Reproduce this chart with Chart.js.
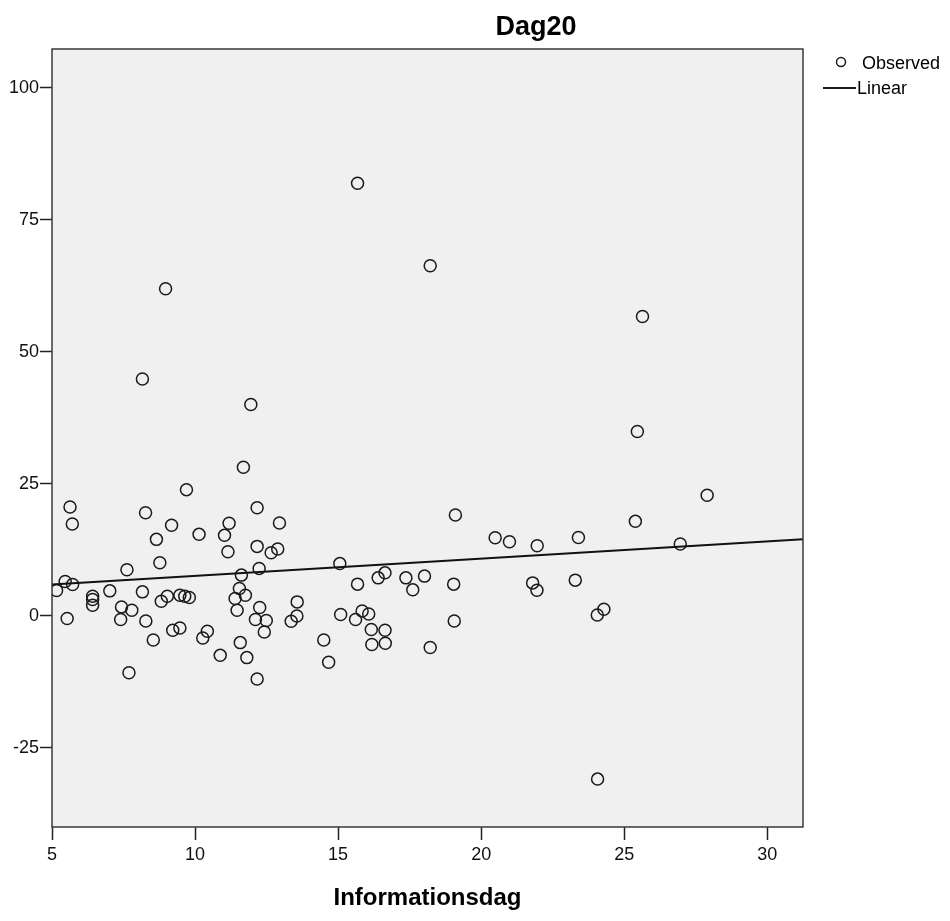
<!DOCTYPE html>
<html>
<head>
<meta charset="utf-8">
<script src="https://cdn.jsdelivr.net/npm/chart.js@4.4.1/dist/chart.umd.min.js"></script>
<style>
  html, body { margin: 0; padding: 0; background: #fff; }
  #ram { width: 950px; height: 921px; }
</style>
</head>
<body>
<div id="ram"><canvas id="spridning" width="950" height="921"></canvas></div>
<script>
// Värden (Informationsdag mot Dag20)
const informationsdag = [
  5.16, 5.46, 5.72, 5.53, 5.63, 5.71, 6.42, 6.42, 6.42, 7.02,
  7.43, 7.40, 7.62, 7.79, 7.69, 8.16, 8.27, 8.28, 8.54, 8.65,
  8.77, 8.82, 9.03, 9.18, 9.22, 9.47, 9.47, 9.64, 9.80, 9.70,
  10.14, 10.27, 10.43, 10.88, 11.03, 11.19, 11.15, 11.40, 11.47, 11.55,
  11.62, 11.76, 11.58, 11.81, 11.69, 11.95, 12.11, 12.17, 12.17, 12.24,
  12.26, 12.42, 12.17, 12.49, 12.66, 12.89, 12.95, 13.36, 13.56, 13.57,
  14.50, 14.67, 15.06, 15.09, 15.68, 15.61, 15.68, 15.84, 16.07, 16.16,
  16.18, 16.40, 16.64, 16.64, 16.65, 17.37, 17.61, 18.02, 18.22, 18.22,
  19.04, 19.06, 19.10, 20.49, 20.99, 21.80, 21.95, 21.96, 23.29, 23.40,
  24.29, 24.06, 24.07, 25.39, 25.46, 25.64, 26.96, 27.90, 8.16, 8.97
];
const dag20 = [
  4.78, 6.49, 5.92, -0.53, 20.59, 17.36, 3.70, 3.07, 1.99, 4.71,
  1.67, -0.72, 8.69, 1.04, -10.78, 4.52, 19.51, -0.99, -4.59, 14.46,
  10.02, 2.75, 3.70, 17.12, -2.75, -2.31, 3.89, 3.70, 3.45, 23.87,
  15.41, -4.21, -2.94, -7.50, 15.22, 17.50, 12.11, 3.26, 1.04, 5.16,
  7.69, 3.89, -5.09, -7.93, 28.12, 40.0, -0.72, 20.46, 13.13, 8.96,
  1.56, -3.07, -11.99, -0.91, 11.92, 12.62, 17.55, -1.04, -0.04, 2.62,
  -4.59, -8.82, 9.87, 0.23, 81.88, -0.72, 5.98, 0.91, 0.34, -2.62,
  -5.46, 7.17, 8.12, -2.75, -5.22, 7.17, 4.90, 7.50, -6.03, 66.26,
  5.98, -0.99, 19.07, 14.76, 14.00, 6.22, 4.84, 13.24, 6.74, 14.80,
  1.23, 0.13, -30.93, 17.87, 34.88, 56.64, 13.57, 22.81, 44.82, 61.90
];
// Linjär anpassning, ändpunkter avlästa vid axelns gränser
const linjeX = [5, 31.25];
const linjeY = [5.9, 14.5];

const xTicks = [5, 10, 15, 20, 25, 30];
const yTicks = [-25, 0, 25, 50, 75, 100];

const titel = 'Dag20';
const xTitel = 'Informationsdag';
const legendTexter = ['Observed', 'Linear'];

const typsnitt = '"Liberation Sans", Arial, sans-serif';

// Grå bakgrund och ram runt diagramytan
const bakgrundPlugin = {
  id: 'bakgrund',
  beforeDraw(chart) {
    const { ctx, chartArea: a } = chart;
    ctx.save();
    ctx.fillStyle = '#f0f0f0';
    ctx.fillRect(a.left, a.top, a.right - a.left, a.bottom - a.top);
    ctx.restore();
  },
  afterDatasetsDraw(chart) {
    const { ctx, chartArea: a } = chart;
    ctx.save();
    ctx.strokeStyle = '#3a3a3a';
    ctx.lineWidth = 1.5;
    ctx.strokeRect(a.left, a.top, a.right - a.left, a.bottom - a.top);
    ctx.restore();
  }
};

// Titel, axeltitel och förklaring
const texterPlugin = {
  id: 'texter',
  afterDraw(chart) {
    const { ctx, chartArea: a } = chart;
    ctx.save();
    ctx.fillStyle = '#000';
    ctx.textBaseline = 'alphabetic';

    ctx.font = 'bold 27px ' + typsnitt;
    ctx.textAlign = 'center';
    ctx.fillText(titel, 536, 35);

    ctx.font = 'bold 24px ' + typsnitt;
    ctx.fillText(xTitel, (a.left + a.right) / 2, 905);

    // förklaring
    ctx.textAlign = 'left';
    ctx.textBaseline = 'middle';
    ctx.font = '18px ' + typsnitt;
    ctx.strokeStyle = '#1a1a1a';
    ctx.lineWidth = 1.5;
    ctx.beginPath();
    ctx.arc(841, 62, 4.5, 0, Math.PI * 2);
    ctx.stroke();
    ctx.fillText(legendTexter[0], 862, 64);

    ctx.lineWidth = 2;
    ctx.beginPath();
    ctx.moveTo(823, 88);
    ctx.lineTo(856, 88);
    ctx.stroke();
    ctx.fillText(legendTexter[1], 857, 89);
    ctx.restore();
  }
};

new Chart(document.getElementById('spridning'), {
  type: 'scatter',
  data: {
    datasets: [
      {
        label: legendTexter[0],
        data: informationsdag.map((x, i) => ({ x: x, y: dag20[i] })),
        pointStyle: 'circle',
        pointRadius: 6,
        pointBorderWidth: 1.5,
        pointBorderColor: '#1a1a1a',
        pointBackgroundColor: 'rgba(0,0,0,0)',
        order: 2
      },
      {
        type: 'line',
        label: legendTexter[1],
        data: linjeX.map((x, i) => ({ x: x, y: linjeY[i] })),
        borderColor: '#111',
        borderWidth: 2,
        pointRadius: 0,
        fill: false,
        order: 1
      }
    ]
  },
  options: {
    responsive: false,
    animation: false,
    devicePixelRatio: 1,
    layout: { padding: { top: 49, right: 147, left: 0, bottom: 0 } },
    plugins: {
      legend: { display: false },
      title: { display: false },
      tooltip: { enabled: false }
    },
    scales: {
      x: {
        type: 'linear',
        min: 5,
        max: 31.25,
        afterBuildTicks: (scale) => { scale.ticks = xTicks.map(v => ({ value: v })); },
        afterFit: (scale) => { scale.height = 94; },
        grid: { display: true, drawOnChartArea: false, drawTicks: true, tickLength: 13, tickWidth: 1.5, tickColor: '#222' },
        border: { display: false },
        ticks: { font: { family: typsnitt, size: 18 }, color: '#111', padding: 4, maxRotation: 0 }
      },
      y: {
        min: -40,
        max: 107.3,
        afterBuildTicks: (scale) => { scale.ticks = yTicks.map(v => ({ value: v })); },
        afterFit: (scale) => { scale.width = 52; },
        grid: { display: true, drawOnChartArea: false, drawTicks: true, tickLength: 12, tickWidth: 1.5, tickColor: '#222' },
        border: { display: false },
        ticks: { font: { family: typsnitt, size: 18 }, color: '#111', padding: 1 }
      }
    }
  },
  plugins: [bakgrundPlugin, texterPlugin]
});
</script>
</body>
</html>
